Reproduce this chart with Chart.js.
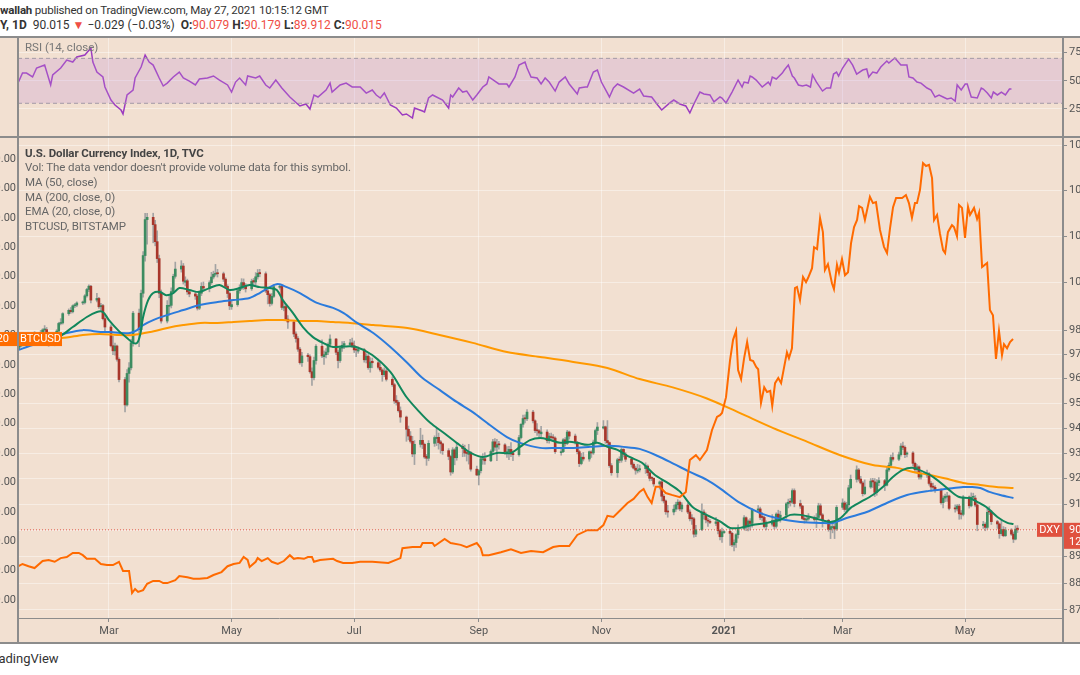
<!DOCTYPE html>
<html>
<head>
<meta charset="utf-8">
<title>DXY with BTCUSD overlay</title>
<script src="https://cdn.jsdelivr.net/npm/chart.js@4.4.1/dist/chart.umd.min.js"></script>
<style>
  html, body { margin: 0; padding: 0; }
  body { width: 1080px; height: 675px; overflow: hidden; position: relative; background: #fff;
         font-family: Roboto, "Noto Sans", sans-serif; color: #333; }
  #panel { position: absolute; left: 0; top: 36px; width: 1080px; height: 608px; background: #f2e0d1; }
  canvas { position: absolute; }
  .rule { position: absolute; background: #8c8c8c; }
  .t { position: absolute; white-space: nowrap; font-size: 12px; line-height: 14px; }
  .lg { left: 25px; color: #666; font-size: 11.5px; letter-spacing: -0.1px; }
  .red { color: #ef4f45; }
</style>
</head>
<body>
<div class="t" style="left:0;top:3px;font-size:11.5px;letter-spacing:-0.2px;"><b>wallah</b> published on TradingView.com, May 27, 2021 10:15:12 GMT</div>
<div class="t" style="left:0;top:18px;"><b>Y, 1D</b>&nbsp; 90.015 <span class="red">▼</span> −0.029 (−0.03%) &nbsp;<b>O:</b><span class="red">90.079</span> <b>H:</b><span class="red">90.179</span> <b>L:</b><span class="red">89.912</span> <b>C:</b><span class="red">90.015</span></div>
<div id="panel"></div>
<canvas id="rsi" width="1145" height="100" style="left:-22px;top:37px;width:1145px;height:100px;"></canvas>
<canvas id="main" width="1145" height="505" style="left:-22px;top:138px;width:1145px;height:505px;"></canvas>
<div class="rule" style="left:0;top:36px;width:1080px;height:2px;"></div>
<div class="rule" style="left:0;top:136px;width:1080px;height:2px;"></div>
<div class="rule" style="left:0;top:642px;width:1080px;height:2px;"></div>
<div class="rule" style="left:17px;top:36px;width:2px;height:608px;"></div>
<div class="rule" style="left:1062px;top:36px;width:2px;height:608px;"></div>
<div class="t" style="left:25px;top:40px;color:#777;font-size:11.5px;">RSI (14, close)</div>
<div class="t lg" style="top:146px;color:#444;font-weight:bold;">U.S. Dollar Currency Index, 1D, TVC</div>
<div class="t lg" style="top:160px;">Vol: The data vendor doesn't provide volume data for this symbol.</div>
<div class="t lg" style="top:175px;">MA (50, close)</div>
<div class="t lg" style="top:190px;">MA (200, close, 0)</div>
<div class="t lg" style="top:204px;">EMA (20, close, 0)</div>
<div class="t lg" style="top:219px;">BTCUSD, BITSTAMP</div>
<div class="t" style="left:-13px;top:652px;font-size:13px;">TradingView</div>

<script>
// x axis: days counted from 16 Jan 2020
const xMin = -0.25;
const xMax = 519.65;
const monthTicks = [45, 106, 167, 229, 290, 351, 410, 471];
const monthLabels = ["Mar", "May", "Jul", "Sep", "Nov", "2021", "Mar", "May"];

const dxyTicks = [87, 88, 89, 90, 91, 92, 93, 94, 95, 96, 97, 98, 100, 102, 104, 106];
const btcTicks = [4000, 8000, 12000, 16000, 20000, 24000, 28000, 32000, 36000, 40000, 44000, 48000, 52000, 56000, 60000, 64000];
const rsiTicks = [25, 50, 75];
const rsiBand = [30, 70];

// DXY daily candles, 16 Jan 2020 .. 27 May 2021 (weekdays)
const dxyOpen = [97.22,97.34,
  97.61,97.57,97.52,97.56,97.73, 97.87,97.86,98.01,98.02,97.84, 97.39,97.73,97.96,98.28,98.30,
  98.69,98.83,98.77,99.02,99.05, 99.14,99.16,99.44,99.71,99.85, 99.26,99.33,98.98,99.03,98.48,
  98.13,97.35,97.14,97.34,96.79, 95.96,94.93,96.21,96.44,97.47, 98.71,98.02,99.55,101.16,102.72,
  102.82,102.50,101.76,101.03,99.55, 98.38,99.00,99.04,99.62,100.27, 100.58,100.71,100.02,100.08,99.61,
  99.52,99.43,98.92,99.55,99.84, 99.77,100.00,100.24,100.36,100.42, 100.38,100.15,99.84,99.54,98.98,
  99.07,99.66,99.77,100.00,99.88, 99.74,100.09,100.03,100.25,100.43, 100.38,99.65,99.49,99.12,99.42,
  99.80,99.84,98.93,98.99,98.46, 98.34,97.84,97.65,97.21,96.65, 96.96,96.90,96.28,96.04,96.74,
  97.33,96.90,96.98,97.09,97.41, 97.63,97.08,96.74,97.25,97.37, 97.40,97.47,97.35,97.21,97.13,
  97.19,96.77,96.92,96.45,96.71, 96.65,96.46,96.35,96.16,96.31, 95.97,95.75,95.12,95.03,94.70,
  94.44,93.95,93.68,93.47,92.97, 93.35,93.51,93.35,92.88,92.80, 93.39,93.58,93.63,93.45,93.37,
  93.10,92.87,92.26,93.13,92.82, 93.27,93.18,93.03,92.95,93.02, 92.37,92.14,92.31,92.74,92.78,
  92.70,93.07,93.45,93.24,93.37, 93.33,93.02,93.06,93.15,92.99, 92.94,93.62,94.15,94.40,94.37,
  94.64,94.29,93.93,93.89,93.77, 93.84,93.50,93.66,93.64,93.60, 93.02,93.06,93.53,93.38,93.84,
  93.68,93.43,93.06,92.59,92.84, 92.77,93.04,93.01,93.44,93.90, 94.00,94.05,93.50,93.42,92.51,
  92.23,92.76,92.72,93.15,92.96, 92.76,92.56,92.41,92.30,92.34, 92.39,92.49,92.23,92.05,92.01,
  91.79,91.87,91.31,91.13,90.74, 90.70,90.81,90.98,91.08,90.82, 90.97,90.70,90.48,90.44,89.85,
  90.02,90.70,90.60,90.38,90.33, 90.26,90.32,89.98,89.75,89.91, 89.96,89.88,89.44,89.53,89.83,
  90.07,90.48,90.13,90.35,90.26, 90.77,90.82,90.53,90.49,90.14, 90.23,90.37,90.15,90.62,90.46,
  90.58,91.02,91.12,91.08,91.53, 91.03,90.93,90.43,90.39,90.43, 90.48,90.41,90.49,90.94,90.59,
  90.38,90.03,90.10,90.14,90.05, 90.88,91.05,90.80,90.98,91.64, 91.97,92.34,91.98,91.83,91.41,
  91.67,91.92,91.87,91.46,91.84, 91.92,91.74,92.34,92.52,92.83, 92.76,92.94,93.28,93.23,92.96,
  93.01,92.60,92.35,92.46,92.06, 92.14,92.19,91.81,91.70,91.66, 91.56,91.06,91.24,91.28,91.32,
  90.86,90.82,90.93,90.66,90.61, 91.28,90.94,91.27,91.24,90.97, 90.18,90.23,90.11,90.73,90.70,
  90.33,90.24,89.87,90.03,89.79, 90.01,89.85,89.66,90.079];
const dxyHigh = [97.40,97.67,
  97.66,97.66,97.63,97.84,97.94, 97.99,98.06,98.19,98.11,97.91, 97.80,98.02,98.33,98.48,98.73,
  98.89,98.95,99.06,99.12,99.19, 99.22,99.49,99.76,99.91,99.89, 99.55,99.38,99.12,99.08,98.64,
  98.22,97.74,97.46,97.38,96.85, 96.05,96.37,96.66,97.62,98.79, 98.88,99.68,101.33,102.99,102.99,
  103.00,102.69,102.23,101.18,99.69, 99.24,99.44,99.78,100.36,100.88, 100.94,100.82,100.25,100.15,99.68,
  99.62,99.50,99.67,100.00,100.03, 100.08,100.44,100.49,100.78,100.57, 100.45,100.21,99.91,99.61,99.24,
  99.76,99.91,100.17,100.16,99.96, 100.15,100.18,100.43,100.56,100.57, 100.46,99.75,99.55,99.54,99.92,
  99.94,99.88,99.20,99.05,98.61, 98.39,97.93,97.73,97.29,97.08, 97.04,96.98,96.44,96.88,97.40,
  97.60,97.14,97.23,97.47,97.80, 97.66,97.15,97.34,97.52,97.53, 97.62,97.67,97.55,97.27,97.30,
  97.24,97.02,96.99,96.86,96.84, 96.80,96.72,96.40,96.44,96.39, 96.07,95.81,95.31,95.10,94.85,
  94.48,94.08,93.86,93.67,93.50, 93.99,93.72,93.40,92.95,93.50, 93.69,93.99,93.80,93.51,93.40,
  93.18,92.92,93.22,93.18,93.40, 93.36,93.32,93.10,93.35,93.07, 92.49,92.36,92.86,92.98,93.02,
  93.13,93.55,93.58,93.55,93.47, 93.38,93.26,93.27,93.42,93.09, 93.71,94.18,94.52,94.53,94.74,
  94.71,94.33,94.18,93.94,94.07, 93.93,93.79,93.80,93.74,93.65, 93.16,93.58,93.62,93.91,93.88,
  93.76,93.47,93.12,92.99,93.03, 93.09,93.10,93.52,93.96,94.22, 94.30,94.08,94.30,93.45,92.59,
  92.80,92.86,93.21,93.18,93.03, 92.82,92.62,92.49,92.56,92.53, 92.62,92.54,92.27,92.08,92.03,
  91.91,91.93,91.38,91.17,90.96, 90.97,91.08,91.18,91.13,91.06, 91.05,90.78,90.60,90.50,90.19,
  91.02,90.78,90.67,90.47,90.41, 90.50,90.36,90.02,90.08,89.99, 90.05,89.92,89.63,89.87,90.21,
  90.56,90.51,90.40,90.45,90.83, 90.95,90.89,90.68,90.54,90.36, 90.60,90.43,90.67,90.77,90.73,
  91.07,91.20,91.23,91.60,91.60, 91.16,90.96,90.58,90.56,90.64, 90.55,90.64,91.04,91.02,90.64,
  90.42,90.22,90.29,90.24,90.95, 91.21,91.12,91.08,91.74,92.14, 92.50,92.40,92.09,91.89,91.95,
  92.00,92.01,92.00,91.96,92.04, 91.97,92.45,92.62,92.92,93.01, 93.04,93.38,93.44,93.29,93.05,
  93.06,92.65,92.55,92.50,92.27, 92.33,92.24,91.88,91.82,91.73, 91.60,91.33,91.40,91.46,91.36,
  90.98,90.99,91.00,90.76,91.34, 91.32,91.44,91.43,91.34,91.02, 90.34,90.29,90.81,90.91,90.77,
  90.38,90.28,90.38,90.14,90.11, 90.06,89.93,90.17,90.179];
const dxyLow = [97.17,97.28,
  97.50,97.43,97.44,97.49,97.66, 97.78,97.80,97.93,97.80,97.33, 97.35,97.66,97.90,98.22,98.25,
  98.62,98.70,98.72,98.94,98.98, 99.07,99.10,99.38,99.62,99.14, 99.18,98.91,98.85,98.43,97.95,
  97.30,96.98,96.96,96.71,95.86, 94.65,94.88,95.85,96.35,97.33, 97.31,97.90,99.38,100.92,101.65,
  101.71,101.58,100.86,99.36,98.29, 98.30,98.62,98.93,99.55,100.19, 100.45,99.94,99.86,99.50,99.40,
  99.29,98.84,98.86,99.45,99.64, 99.61,99.93,100.16,100.28,100.24, 100.05,99.80,99.37,98.86,98.87,
  99.00,99.55,99.70,99.71,99.60, 99.67,99.84,99.91,100.15,100.25, 99.58,99.10,99.00,99.05,99.37,
  99.72,98.86,98.81,98.40,98.07, 97.73,97.50,97.12,96.59,96.50, 96.70,96.22,95.72,95.95,96.59,
  96.86,96.58,96.85,96.98,97.29, 96.98,96.44,96.66,97.12,97.23, 97.32,97.28,97.07,96.90,97.04,
  96.67,96.64,96.38,96.26,96.44, 96.39,96.28,95.89,96.08,95.90, 95.68,94.99,94.92,94.64,94.23,
  93.47,93.53,93.40,92.86,92.55, 93.24,93.18,92.79,92.52,92.70, 93.27,93.30,93.16,93.00,92.95,
  92.74,92.13,92.20,92.54,92.72, 92.86,92.87,92.69,92.57,92.29, 92.12,91.75,92.22,92.56,92.56,
  92.66,92.94,93.11,92.70,93.16, 92.96,92.83,92.74,92.86,92.70, 92.88,93.57,94.04,94.21,94.30,
  94.21,93.82,93.71,93.58,93.64, 93.41,93.40,93.50,93.50,92.99, 92.92,93.02,93.28,93.34,93.56,
  93.36,92.97,92.47,92.54,92.69, 92.68,92.83,92.95,93.36,93.74, 93.96,93.39,93.26,92.44,92.13,
  92.05,92.62,92.64,92.85,92.67, 92.45,92.37,92.17,92.22,92.26, 92.20,92.11,91.91,91.92,91.70,
  91.59,91.13,91.05,90.61,90.50, 90.59,90.72,90.81,90.75,90.71, 90.64,90.36,90.22,89.73,89.75,
  89.98,90.42,90.28,90.15,90.25, 90.17,89.86,89.63,89.53,89.88, 89.42,89.37,89.21,89.34,89.70,
  90.01,89.98,89.97,90.00,90.12, 90.69,90.41,90.35,90.09,90.01, 90.16,90.05,90.08,90.39,90.31,
  90.45,90.86,90.93,91.02,90.90, 90.84,90.40,90.27,90.33,90.38, 90.34,90.10,90.43,90.55,90.12,
  89.96,89.68,89.90,89.68,89.99, 90.80,90.72,90.66,90.83,91.59, 91.86,91.90,91.79,91.32,91.37,
  91.62,91.65,91.30,91.35,91.72, 91.53,91.71,92.28,92.45,92.68, 92.70,92.88,93.14,92.82,92.85,
  92.49,92.22,92.22,91.98,91.98, 92.05,91.74,91.56,91.60,91.46, 91.00,90.86,91.10,91.11,90.78,
  90.69,90.74,90.42,90.43,90.55, 90.85,90.90,91.15,90.90,89.98, 90.07,89.98,90.05,90.60,90.22,
  90.07,89.69,89.80,89.75,89.76, 89.80,89.53,89.63,89.912];
const dxyClose = [97.34,97.61,
  97.57,97.52,97.56,97.73,97.87, 97.86,98.01,98.02,97.84,97.39, 97.73,97.96,98.28,98.30,98.69,
  98.83,98.77,99.02,99.05,99.14, 99.16,99.44,99.71,99.85,99.26, 99.33,98.98,99.03,98.48,98.13,
  97.35,97.14,97.34,96.79,95.96, 94.93,96.21,96.44,97.47,98.71, 98.02,99.55,101.16,102.72,102.82,
  102.50,101.76,101.03,99.55,98.38, 99.04,99.04,99.62,100.27,100.58, 100.71,100.06,100.08,99.61,99.52,
  99.43,98.92,99.55,99.84,99.77, 100.00,100.24,100.36,100.39,100.38, 100.15,99.84,99.54,99.02,99.07,
  99.66,99.77,100.00,99.88,99.74, 100.06,100.03,100.25,100.40,100.38, 99.65,99.49,99.12,99.42,99.83,
  99.84,98.95,98.99,98.46,98.34, 97.84,97.65,97.21,96.65,96.93, 96.90,96.28,96.04,96.74,97.33,
  96.93,96.98,97.09,97.41,97.63, 97.08,96.74,97.25,97.37,97.44, 97.47,97.35,97.18,97.17,97.19,
  96.77,96.92,96.45,96.68,96.65, 96.46,96.35,96.16,96.31,95.97, 95.75,95.09,95.03,94.70,94.44,
  93.95,93.68,93.47,92.97,93.35, 93.51,93.35,92.85,92.80,93.39, 93.62,93.63,93.42,93.37,93.10,
  92.87,92.26,93.13,92.82,93.24, 93.18,93.01,92.99,93.02,92.37, 92.14,92.31,92.78,92.78,92.70,
  93.07,93.45,93.24,93.34,93.33, 93.06,93.06,93.15,92.97,92.94, 93.62,94.15,94.38,94.37,94.64,
  94.29,93.90,93.89,93.80,93.84, 93.50,93.68,93.62,93.60,93.06, 93.06,93.53,93.38,93.84,93.68,
  93.43,93.06,92.59,92.84,92.77, 93.06,93.01,93.44,93.90,94.04, 94.05,93.50,93.42,92.51,92.23,
  92.74,92.72,93.15,92.96,92.76, 92.56,92.41,92.33,92.34,92.39, 92.49,92.23,92.01,92.01,91.79,
  91.87,91.31,91.13,90.71,90.70, 90.81,90.98,91.08,90.82,90.97, 90.70,90.44,90.44,89.85,90.02,
  90.70,90.60,90.40,90.35,90.30, 90.32,89.98,89.75,89.94,89.94, 89.88,89.44,89.53,89.83,90.07,
  90.48,90.13,90.35,90.26,90.77, 90.82,90.49,90.49,90.14,90.23, 90.37,90.15,90.62,90.46,90.58,
  91.02,91.08,91.08,91.53,91.03, 90.93,90.45,90.41,90.43,90.48, 90.41,90.49,90.94,90.59,90.38,
  90.03,90.14,90.14,90.05,90.88, 91.05,90.80,90.98,91.64,91.97, 92.34,91.98,91.83,91.41,91.67,
  91.90,91.87,91.46,91.84,91.92, 91.74,92.34,92.52,92.83,92.76, 92.94,93.28,93.23,92.94,93.01,
  92.60,92.35,92.46,92.06,92.16, 92.19,91.81,91.67,91.66,91.56, 91.06,91.24,91.31,91.32,90.84,
  90.82,90.93,90.63,90.61,91.28, 90.94,91.27,91.28,90.97,90.22, 90.23,90.11,90.69,90.70,90.33,
  90.24,89.87,90.03,89.79,90.01, 89.85,89.66,90.04,90.015];

// moving averages as drawn (day, value)
const ma50Days = [0,7,16,24,32,41,46,50.5,55.5,59,62,67,74,82,90,99,107,115,120,125,129,133.5,140,148.5,156.5,162,168.5,176.5,185,193.5,201,209.5,218,226,234.5,243,249.5,259.5,268,276,284.5,293,301,309,318,326,334,342.5,349,359,369,379,389,399,405,412,422,432,442,453,462,470,474.5,478.5,483,488.5,495];
const ma50Vals = [97.18,97.38,97.67,97.88,98.00,97.92,97.92,97.88,97.88,98.00,98.21,98.42,98.63,98.84,99.05,99.18,99.26,99.35,99.56,99.81,99.94,99.81,99.56,99.14,98.93,98.70,98.30,97.88,97.30,96.64,96.02,95.54,95.05,94.64,94.12,93.64,93.41,93.21,93.21,93.21,93.25,93.29,93.25,93.17,92.89,92.58,92.26,91.95,91.62,91.05,90.66,90.43,90.32,90.28,90.28,90.47,90.70,91.05,91.36,91.52,91.60,91.67,91.67,91.63,91.48,91.36,91.24];
const ma200Days = [0,21.5,32,40.5,49,57,65.5,74,82,90.5,99,107,115,123.5,131.5,140,148.5,156.5,165,176.5,193.5,209.5,226,243,259.5,276,293,309,325.5,342.5,359,375.5,392.5,408.5,425,437,445,453.5,462,470,478.5,486.5,495];
const ma200Vals = [97.72,97.67,97.80,97.84,97.80,97.80,97.92,98.09,98.21,98.30,98.30,98.34,98.38,98.42,98.42,98.38,98.38,98.34,98.30,98.21,98.09,97.80,97.47,97.09,96.89,96.68,96.43,95.98,95.64,95.19,94.60,94.00,93.45,92.93,92.53,92.42,92.26,92.14,91.99,91.83,91.75,91.67,91.63];
const ema20Days = [0,10,20,27,34,39,42,45,49.5,54,57,59,60.5,62,64.5,67,70.5,73.5,77,80,85,90,95,100,105,110,115,120,125,128.5,131.5,136.5,141.5,146.5,151.5,156.5,161.5,168,176,185,193,200,205,211,218,225,231,238,245,249.5,254.5,259.5,264.5,269.5,274,278,283,288,293,298,304,310,316.5,323,329,335.5,342.5,349,354,359,365,372,379,384,389,394,399,404,409,414,419,425,430,435,440,445,452,457,463,468,473,478,482,487,492,495];
const ema20Vals = [97.35,97.45,97.71,98.13,98.55,98.76,98.76,98.42,98.00,97.67,97.47,97.47,97.80,98.55,99.26,99.56,99.60,99.47,99.56,99.77,99.69,99.60,99.77,99.90,99.69,99.77,99.90,99.81,99.77,99.69,99.26,98.72,98.13,97.71,97.47,97.30,97.32,97.30,96.97,96.27,95.25,94.60,94.20,93.84,93.41,93.01,92.85,93.01,93.01,93.25,93.52,93.60,93.52,93.41,93.45,93.41,93.33,93.41,93.25,93.13,92.85,92.63,92.15,91.83,91.50,90.88,90.58,90.34,90.09,90.09,90.20,90.28,90.40,90.59,90.59,90.51,90.40,90.32,90.47,90.86,91.09,91.36,91.67,92.06,92.34,92.42,92.20,91.95,91.56,91.28,91.24,91.05,90.86,90.51,90.28,90.24];

// BTCUSD overlay (left scale)
const btcDays = [0,2,5,8,12,15,18,21,24,27,30,32,34,38,41,44,47,50,52,55,56.5,58,59.5,62,64,67,70,72,74,78,80,84,87,90,94,97,101,104,107,110,112,114,115,118,119,121,124,126,129,132,135,137,139,142,144,146,147,150,156.5,158.5,161.5,166,170,176,184,190,191,196,200,201,206,207,212,215,220,223,228,230,231,234,240,245,250,255,261,266,269,274,278,283,288,291,293,296,299,303,306,309,311,313,315,317,319,322,325,329,332,334,337,339,342.5,345,347.5,349,350,352,354,355.5,357,358,359.5,361,362.5,364,365.5,367,368,369.4,371,372.4,374,375,376.4,378,379.4,382.3,383.3,384.8,386.3,387.3,388.8,390.3,391.8,392.8,394.8,395.8,397.3,398.8,400.2,401.2,402.7,404.7,405.7,407.2,408.2,409.7,411.2,412.7,414.2,415.7,417.2,418.2,419.7,421.1,423.6,425.1,426.6,428.6,430.6,432.1,433.6,435.1,436.6,439.6,441.5,443,444.5,446,447,448.5,450,451.5,453,454.5,455.5,457,458.4,460,461,462.4,464.4,465.4,466.9,467.9,469.4,470.9,472.4,473.4,475.4,476.9,477.9,479.4,481.9,483.3,484.8,486.3,487.8,489.3,490.3,491.8,493.3,494.8];
const btcVals = [8600,8900,8600,8350,9300,9450,9200,9700,9850,10400,10400,10100,9600,9600,8900,8750,8750,9200,7950,7950,4950,5500,5100,5350,6200,6600,6600,6300,6300,6700,7250,7100,6900,6900,7000,7400,7800,8600,8900,9050,9850,9450,8500,9200,9700,9300,9700,9200,8900,9300,10100,9600,9700,9600,9850,9850,9200,9450,9600,9300,9050,9050,9200,9200,9050,9700,11050,11200,11200,11750,11750,11350,12300,11750,11500,11200,11750,11050,10100,10100,10500,10900,10400,10650,10500,11200,11350,11350,12850,13500,13500,14200,15450,15300,16100,17200,17750,18700,19100,18000,17200,19400,19400,18550,18300,18000,18700,23050,23700,23050,24400,27100,28900,29150,29450,31600,36650,39400,40600,35300,34050,36900,39100,36650,36500,35700,35400,30800,32950,32300,32450,30400,33500,34200,33500,37700,36900,38250,46450,46600,44800,47950,47250,47800,49150,52000,51750,55950,54050,48900,49700,47100,46300,49600,48500,50400,48200,48600,52550,54750,55700,57600,57350,55700,58850,58000,58150,54350,52050,51200,54600,57450,58700,58700,59100,58000,56000,58000,58000,59800,63450,63050,63200,61400,55700,56400,53900,51600,51200,54050,55000,54750,53500,57750,57350,53250,57500,56400,57350,55850,56700,49300,49850,43450,42750,36800,40600,37300,38800,38250,39100,39500];

// RSI (14, close)
const rsiDays = [0,2,4,7,9,13,16,17,21,24,27,29,33,36,37,39,42,43,46,48,51,52,54,57,58,61,63,65,67,70,72,74,77,80,82,85,88,90,94,97,100,104,106,108,110,113,114,118,120,123,125,128,131,135,140,143,145,147,149,153,155,156,160,163,166,170,173,176,178,180,182,185,188,191,193,196,197,201,202,204,206,211,214,215,216,219,221,223,226,228,231,233,234,237,239,243,244,247,249,252,253,255,258,260,262,264,267,269,272,274,278,279,282,283,286,288,290,293,294,296,298,301,306,309,311,315,318,320,324,326,329,332,334,336,339,341,344,346,349,350,352,355,358,360,361,363,364,365,367,370,373,374,375,377,380,381,383,385,386,388,390,392,394,395,397,400,402,404,405.5,407,408,410,413,415,417,420,422,423,425,427,429,432,433,436,439,442,443,445,447,449,452,454,456,458,460,462,464,466,467,469,471,472,474,477,479,480,482,484,485,487,489,491,493,494];
const rsiVals = [48.9,56.9,56.9,53.4,61.4,64.0,46.3,55.2,61.4,68.5,66.7,71.2,72.9,79.2,66.7,57.8,53.4,44.5,32.9,28.5,24.0,20.5,37.4,41.8,52.5,62.3,72.9,66.7,64.0,52.5,45.4,48.0,53.4,57.8,52.5,49.8,46.3,51.6,52.5,54.3,50.7,46.3,40.0,48.9,52.5,46.3,54.3,52.5,54.3,46.3,43.6,50.7,43.6,35.6,27.6,29.4,24.9,37.4,35.6,41.8,48.0,40.0,46.3,48.0,44.5,44.5,39.1,41.8,37.4,34.7,39.2,28.5,25.8,19.6,20.5,16.9,25.8,23.1,22.3,34.7,37.4,32.9,25.8,37.4,35.6,43.6,40.0,40.9,32.9,37.4,44.5,47.2,53.4,49.8,47.2,47.2,44.5,53.4,64.0,66.7,61.4,53.4,52.5,47.2,52.5,48.9,40.9,48.9,53.4,47.2,38.3,43.6,44.5,44.5,57.8,59.6,48.9,39.1,35.6,43.6,47.2,44.5,39.1,42.7,36.5,35.6,28.5,24.0,30.3,32.9,29.4,27.6,21.4,29.4,40.0,38.3,37.4,31.2,35.6,34.7,30.3,40.0,50.7,44.5,48.9,48.0,54.3,53.4,50.7,44.5,48.9,46.3,53.4,51.6,56.9,59.6,64.0,54.3,52.5,46.3,45.4,46.3,44.5,55.2,48.9,40.9,43.6,43.6,56.0,57.8,54.3,61.4,69.4,64.0,56.0,59.6,60.5,53.4,57.8,56.9,62.3,67.6,65.8,70.3,64.0,64.0,53.4,52.5,48.9,48.0,43.6,41.8,35.6,37.4,35.6,33.8,34.7,32.0,46.3,41.8,47.2,47.2,35.6,34.7,43.6,42.7,39.1,34.7,40.0,37.4,40.0,37.4,42.7,42.7];

const dxyLastText = "90.015";
const dxyCountdown = "12:44:47";
const btcLastText = "39520.20";

// weekday calendar for the candles (Sat/Sun skipped)
const tradeDays = [];
for (let d = 0; d <= 497; d++) {
  if (d % 7 !== 2 && d % 7 !== 3) tradeDays.push(d);
}

const FONT = 'Roboto, "Noto Sans", sans-serif';
Chart.defaults.font.family = FONT;

const bgGrid = "rgba(255,255,255,0.42)";
const frame = "#8c8c8c";
const upCol = "#3d8c61";
const downCol = "#a8362b";

const pts = (days, vals) => days.map((d, i) => ({ x: d, y: vals[i] }));
const n = Math.min(tradeDays.length, dxyClose.length);
const wicks = [], bodies = [];
for (let i = 0; i < n; i++) {
  wicks.push({ x: tradeDays[i], y: [dxyLow[i], dxyHigh[i]] });
  bodies.push({ x: tradeDays[i], y: [dxyOpen[i], dxyClose[i]] });
}

// fixed ticks and fixed range (Chart.js would otherwise widen to "nice" bounds)
const fixTicks = (list, lo, hi) => (s) => {
  s.ticks = list.map((v) => ({ value: v }));
  s.min = lo;
  s.max = hi;
};
// fixed box size, and no label overflow padding so the plot area keeps its exact size
const fixSize = (w, h) => (s) => {
  if (w !== null) s.width = w;
  if (h !== null) s.height = h;
  s.paddingTop = 0; s.paddingBottom = 0; s.paddingLeft = 0; s.paddingRight = 0;
};

const xScale = (showLabels) => ({
  type: "linear",
  min: xMin,
  max: xMax,
  offset: false,
  afterBuildTicks: fixTicks(monthTicks, xMin, xMax),
  afterFit: fixSize(null, showLabels ? 25 : 0),
  ticks: {
    display: showLabels,
    autoSkip: false,
    maxRotation: 0,
    padding: 3,
    color: "#555",
    font: (c) => ({ size: 11, weight: monthLabels[c.index] === "2021" ? "bold" : "normal" }),
    callback: (v, i) => monthLabels[i],
  },
  grid: { color: bgGrid, offset: false, drawTicks: showLabels, tickLength: 4, tickColor: frame },
  border: { display: showLabels, color: frame },
});

// price tags on both axes
const priceTags = {
  id: "priceTags",
  afterDraw(chart) {
    const { ctx, chartArea, scales } = chart;
    ctx.save();
    ctx.font = "11px " + FONT;
    ctx.textBaseline = "middle";

    const yD = scales.yDxy.getPixelForValue(dxyClose[dxyClose.length - 1]);
    ctx.fillStyle = "#e0513f";
    ctx.fillRect(chartArea.right - 26, yD - 7, 25, 14);
    ctx.fillRect(chartArea.right + 1, yD - 7, 60, 26);
    ctx.fillStyle = "#fff";
    ctx.textAlign = "center";
    ctx.fillText("DXY", chartArea.right - 13.5, yD);
    ctx.textAlign = "left";
    ctx.fillText(dxyLastText, chartArea.right + 6, yD);
    ctx.fillText(dxyCountdown, chartArea.right + 6, yD + 12);

    const yB = scales.yBtc.getPixelForValue(btcVals[btcVals.length - 1]);
    ctx.fillStyle = "#ff6d00";
    ctx.fillRect(0, yB - 7, chartArea.left - 1, 14);
    ctx.fillRect(chartArea.left + 1, yB - 7, 43, 14);
    ctx.fillStyle = "#fff";
    ctx.textAlign = "right";
    ctx.fillText(btcLastText, chartArea.left - 9, yB);
    ctx.textAlign = "center";
    ctx.fillText("BTCUSD", chartArea.left + 22.5, yB);
    ctx.restore();
  },
};

new Chart(document.getElementById("main"), {
  type: "bar",
  data: {
    datasets: [
      { label: "wick", data: wicks, yAxisID: "yDxy", backgroundColor: "#a3a3a3", barThickness: 1, grouped: false, order: 7 },
      {
        label: "DXY", data: bodies, yAxisID: "yDxy", barThickness: 2, grouped: false, minBarLength: 1, order: 6,
        backgroundColor: (c) => (dxyClose[c.dataIndex] >= dxyOpen[c.dataIndex] ? upCol : downCol),
      },
      { type: "line", label: "MA 200", data: pts(ma200Days, ma200Vals), yAxisID: "yDxy", borderColor: "#ff9900", borderWidth: 2, pointRadius: 0, tension: 0.3, order: 5 },
      { type: "line", label: "MA 50", data: pts(ma50Days, ma50Vals), yAxisID: "yDxy", borderColor: "#2b7bdc", borderWidth: 2, pointRadius: 0, tension: 0.3, order: 4 },
      { type: "line", label: "EMA 20", data: pts(ema20Days, ema20Vals), yAxisID: "yDxy", borderColor: "#11875c", borderWidth: 2, pointRadius: 0, tension: 0.3, order: 3 },
      { type: "line", label: "BTCUSD", data: pts(btcDays, btcVals), yAxisID: "yBtc", borderColor: "#ff6a00", borderWidth: 2, pointRadius: 0, tension: 0, order: 2 },
      {
        type: "line", label: "last", yAxisID: "yDxy", order: 1,
        data: [{ x: xMin, y: dxyClose[dxyClose.length - 1] }, { x: xMax, y: dxyClose[dxyClose.length - 1] }],
        borderColor: "#e0584a", borderWidth: 1, borderDash: [1, 2], pointRadius: 0,
      },
    ],
  },
  options: {
    responsive: false,
    animation: false,
    layout: { padding: 0, autoPadding: false },
    plugins: { legend: { display: false }, tooltip: { enabled: false } },
    scales: {
      x: xScale(true),
      yDxy: {
        type: "logarithmic",
        position: "right",
        min: 86.7,
        max: 106.35,
        afterBuildTicks: fixTicks(dxyTicks, 86.7, 106.35),
        afterFit: fixSize(60, null),
        ticks: { color: "#555", font: { size: 11 }, padding: 2, callback: (v) => Number(v).toFixed(3) },
        grid: { color: bgGrid, drawTicks: true, tickLength: 4, tickColor: frame },
        border: { display: false },
      },
      yBtc: {
        type: "linear",
        position: "left",
        min: 1551,
        max: 66857,
        afterBuildTicks: fixTicks(btcTicks, 1551, 66857),
        afterFit: fixSize(40, null),
        ticks: { color: "#555", font: { size: 11 }, padding: 2, callback: (v) => Number(v).toFixed(2) },
        grid: { display: false, drawTicks: false },
        border: { display: false },
      },
    },
  },
  plugins: [priceTags],
});

new Chart(document.getElementById("rsi"), {
  type: "line",
  data: {
    datasets: [
      { label: "upper", data: [{ x: xMin, y: rsiBand[1] }, { x: xMax, y: rsiBand[1] }], borderColor: "#a29aa6", borderWidth: 1, borderDash: [4, 3], pointRadius: 0, fill: false },
      { label: "lower", data: [{ x: xMin, y: rsiBand[0] }, { x: xMax, y: rsiBand[0] }], borderColor: "#a29aa6", borderWidth: 1, borderDash: [4, 3], pointRadius: 0, fill: "-1", backgroundColor: "rgba(190,140,215,0.25)" },
      { label: "RSI", data: pts(rsiDays, rsiVals), borderColor: "#9c3cc0", borderWidth: 1.5, pointRadius: 0, tension: 0, fill: false },
    ],
  },
  options: {
    responsive: false,
    animation: false,
    layout: { padding: 0, autoPadding: false },
    plugins: { legend: { display: false }, tooltip: { enabled: false } },
    scales: {
      x: xScale(false),
      y: {
        position: "right",
        min: 0,
        max: 89,
        afterBuildTicks: fixTicks(rsiTicks, 0, 89),
        afterFit: fixSize(60, null),
        ticks: { color: "#555", font: { size: 11 }, padding: 2, callback: (v) => Number(v).toFixed(2) },
        grid: { color: bgGrid, drawTicks: true, tickLength: 4, tickColor: frame },
        border: { display: false },
      },
      yL: {
        position: "left",
        ticks: { display: false },
        grid: { display: false, drawTicks: false },
        border: { display: false },
        afterFit: fixSize(40, null),
      },
    },
  },
});
</script>
</body>
</html>
